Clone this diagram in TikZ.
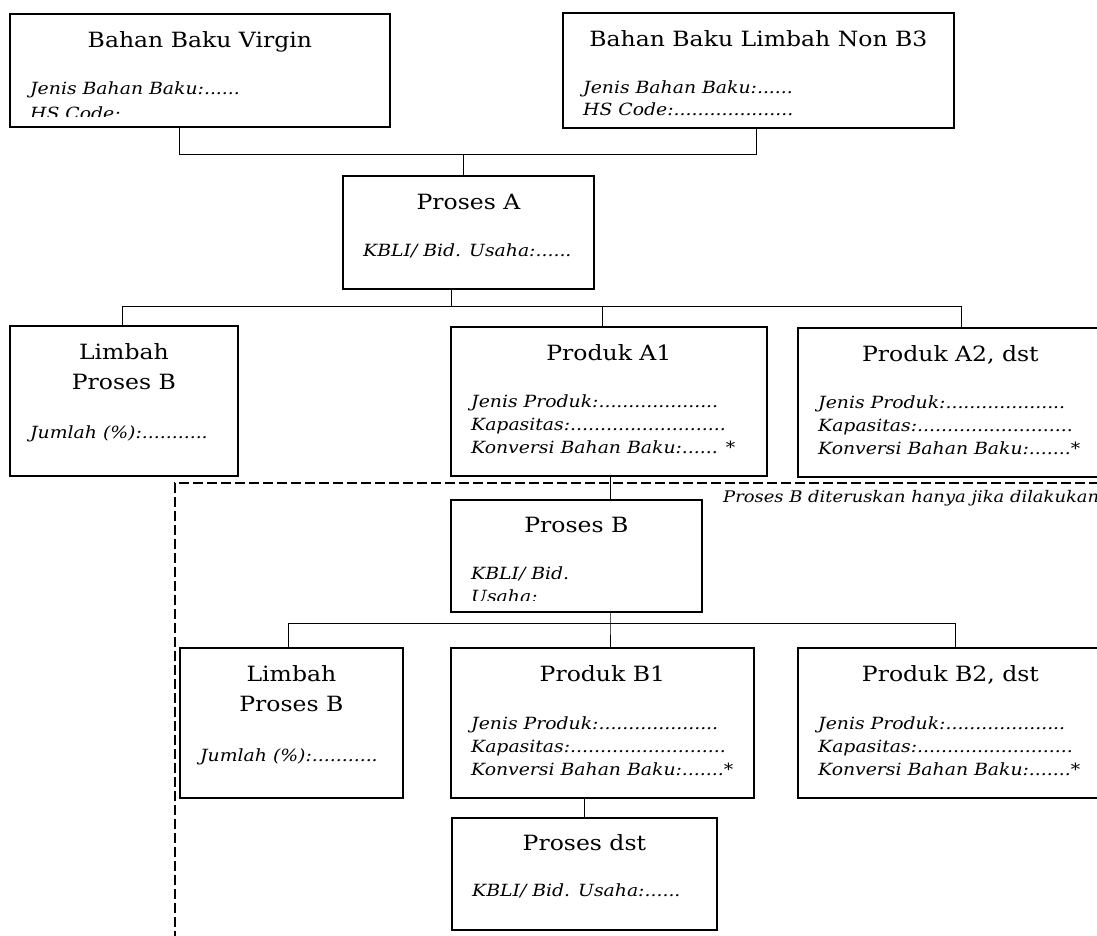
\documentclass[tikz,border=0pt]{standalone}
\usepackage{fontspec}
\setmainfont[FakeStretch=1.12]{DejaVu Serif}
\usetikzlibrary{positioning}

\tikzset{
  kotak/.style={draw, line width=1.8pt, anchor=north west, inner sep=0pt},
  judul/.style={anchor=base, inner sep=0pt, font=\fontsize{21}{30}\selectfont},
  isi/.style={anchor=base west, inner sep=0pt, font=\itshape\fontsize{16.8}{23}\selectfont},
  garis/.style={line width=0.9pt},
  batas/.style={draw, line width=2pt, dash pattern=on 10pt off 4pt, anchor=north west, inner sep=0pt},
}

\begin{document}
\begin{tikzpicture}[x=1pt, y=-1pt]
  \useasboundingbox (0,0) rectangle (1097,935);
  \clip (0,0) rectangle (1097,935);

  % Bahan baku
  \node[kotak, minimum width=380pt, minimum height=113pt] (virgin) at (9,13) {};
  \node[judul, yshift=-34pt] (virginJudul) at (virgin.north) {Bahan Baku Virgin};
  \begin{scope}
    \clip (virgin.north west) rectangle ([yshift=11pt]virgin.south east);
    \node[isi, font=\itshape\fontsize{16.8}{25}\selectfont, xshift=21pt, yshift=-81pt] (virginIsi) at (virgin.north west)
      {\begin{tabular}[t]{@{}l@{}}Jenis Bahan Baku:......\\HS Code:\end{tabular}};
  \end{scope}

  \node[kotak, minimum width=391pt, minimum height=115pt] (nonbtiga) at (562,12) {};
  \node[judul, yshift=-34pt] (nonbtigaJudul) at (nonbtiga.north) {Bahan Baku Limbah Non B3};
  \node[isi, font=\itshape\fontsize{16.8}{22}\selectfont, xshift=21pt, yshift=-81pt] (nonbtigaIsi) at (nonbtiga.north west)
    {\begin{tabular}[t]{@{}l@{}}Jenis Bahan Baku:......\\HS Code:....................\end{tabular}};

  % Proses A
  \node[kotak, minimum width=251pt, minimum height=113pt] (prosesA) at (342,175) {};
  \node[judul, yshift=-34pt] (prosesAJudul) at (prosesA.north) {Proses A};
  \node[isi, xshift=21pt, yshift=-81pt] (prosesAIsi) at (prosesA.north west) {KBLI/ Bid. Usaha:......};

  % Hasil proses A
  \node[kotak, minimum width=228pt, minimum height=150pt] (limbahA) at (9,325) {};
  \node[judul, yshift=-34pt] (limbahAJudul) at (limbahA.north)
    {\begin{tabular}[t]{@{}c@{}}Limbah\\Proses B\end{tabular}};
  \node[isi, xshift=21pt, yshift=-113pt] (limbahAIsi) at (limbahA.north west) {Jumlah (\%):...........};

  \node[kotak, minimum width=316pt, minimum height=149pt] (produkAsatu) at (450,326) {};
  \node[judul, yshift=-34pt] (produkAsatuJudul) at (produkAsatu.north) {Produk A1};
  \node[isi, xshift=21pt, yshift=-81pt] (produkAsatuIsi) at (produkAsatu.north west)
    {\begin{tabular}[t]{@{}l@{}}Jenis Produk:....................\\Kapasitas:..........................\\Konversi Bahan Baku:...... *\end{tabular}};

  \node[kotak, minimum width=305pt, minimum height=149pt] (produkAdua) at (797,327) {};
  \node[judul, yshift=-34pt] (produkAduaJudul) at (produkAdua.north) {Produk A2, dst};
  \node[isi, xshift=21pt, yshift=-81pt] (produkAduaIsi) at (produkAdua.north west)
    {\begin{tabular}[t]{@{}l@{}}Jenis Produk:....................\\Kapasitas:..........................\\Konversi Bahan Baku:.......*\end{tabular}};

  % Batas proses lanjutan
  \node[batas, minimum width=950pt, minimum height=480pt] (lanjut) at (174,482) {};
  \node[isi, font=\itshape\fontsize{16}{23}\selectfont, anchor=west] (lanjutCatatan) at (723,498) {Proses B diteruskan hanya jika dilakukan};

  % Proses B
  \node[kotak, minimum width=251pt, minimum height=112pt] (prosesB) at (450,499) {};
  \node[judul, yshift=-33pt] (prosesBJudul) at (prosesB.north) {Proses B};
  \begin{scope}
    \clip (prosesB.north west) rectangle ([yshift=12pt]prosesB.south east);
    \node[isi, xshift=21pt, yshift=-80pt] (prosesBIsi) at (prosesB.north west)
      {\begin{tabular}[t]{@{}l@{}}KBLI/ Bid.\\Usaha:\end{tabular}};
  \end{scope}

  % Hasil proses B
  \node[kotak, minimum width=223pt, minimum height=150pt] (limbahB) at (179,647) {};
  \node[judul, yshift=-34pt] (limbahBJudul) at (limbahB.north)
    {\begin{tabular}[t]{@{}c@{}}Limbah\\Proses B\end{tabular}};
  \node[isi, xshift=21pt, yshift=-114pt] (limbahBIsi) at (limbahB.north west) {Jumlah (\%):...........};

  \node[kotak, minimum width=303pt, minimum height=150pt] (produkBsatu) at (450,647) {};
  \node[judul, yshift=-34pt] (produkBsatuJudul) at (produkBsatu.north) {Produk B1};
  \node[isi, xshift=21pt, yshift=-82pt] (produkBsatuIsi) at (produkBsatu.north west)
    {\begin{tabular}[t]{@{}l@{}}Jenis Produk:....................\\Kapasitas:..........................\\Konversi Bahan Baku:.......*\end{tabular}};

  \node[kotak, minimum width=305pt, minimum height=150pt] (produkBdua) at (797,647) {};
  \node[judul, yshift=-34pt] (produkBduaJudul) at (produkBdua.north) {Produk B2, dst};
  \node[isi, xshift=21pt, yshift=-82pt] (produkBduaIsi) at (produkBdua.north west)
    {\begin{tabular}[t]{@{}l@{}}Jenis Produk:....................\\Kapasitas:..........................\\Konversi Bahan Baku:.......*\end{tabular}};

  % Proses dst
  \node[kotak, minimum width=265pt, minimum height=112pt] (prosesdst) at (451,817) {};
  \node[judul, yshift=-33pt] (prosesdstJudul) at (prosesdst.north) {Proses dst};
  \node[isi, xshift=21pt, yshift=-79pt] (prosesdstIsi) at (prosesdst.north west) {KBLI/ Bid. Usaha:......};

  % Garis penghubung
  \coordinate (jA) at (179,154);
  \coordinate (jB) at (756,154);
  \coordinate (jC) at (463,154);
  \draw[garis] (virgin.south -| jA) -- (jA) -- (jB) -- (nonbtiga.south -| jB);
  \draw[garis] (jC) -- (prosesA.north -| jC);

  \coordinate (kA) at (122,306);
  \coordinate (kB) at (961,306);
  \coordinate (kC) at (451,306);
  \coordinate (kD) at (602,306);
  \draw[garis] (limbahA.north -| kA) -- (kA) -- (kB) -- (produkAdua.north -| kB);
  \draw[garis] (prosesA.south -| kC) -- (kC);
  \draw[garis] (kD) -- (produkAsatu.north -| kD);

  \coordinate (mA) at (610,487);
  \draw[garis] (produkAsatu.south -| mA) -- (prosesB.north -| mA);

  \coordinate (nA) at (288,623);
  \coordinate (nB) at (955,623);
  \coordinate (nC) at (610,623);
  \draw[garis] (limbahB.north -| nA) -- (nA) -- (nB) -- (produkBdua.north -| nB);
  \draw[garis] (prosesB.south -| nC) -- (nC) -- (produkBsatu.north -| nC);

  \coordinate (pA) at (584,807);
  \draw[garis] (produkBsatu.south -| pA) -- (prosesdst.north -| pA);
\end{tikzpicture}
\end{document}
